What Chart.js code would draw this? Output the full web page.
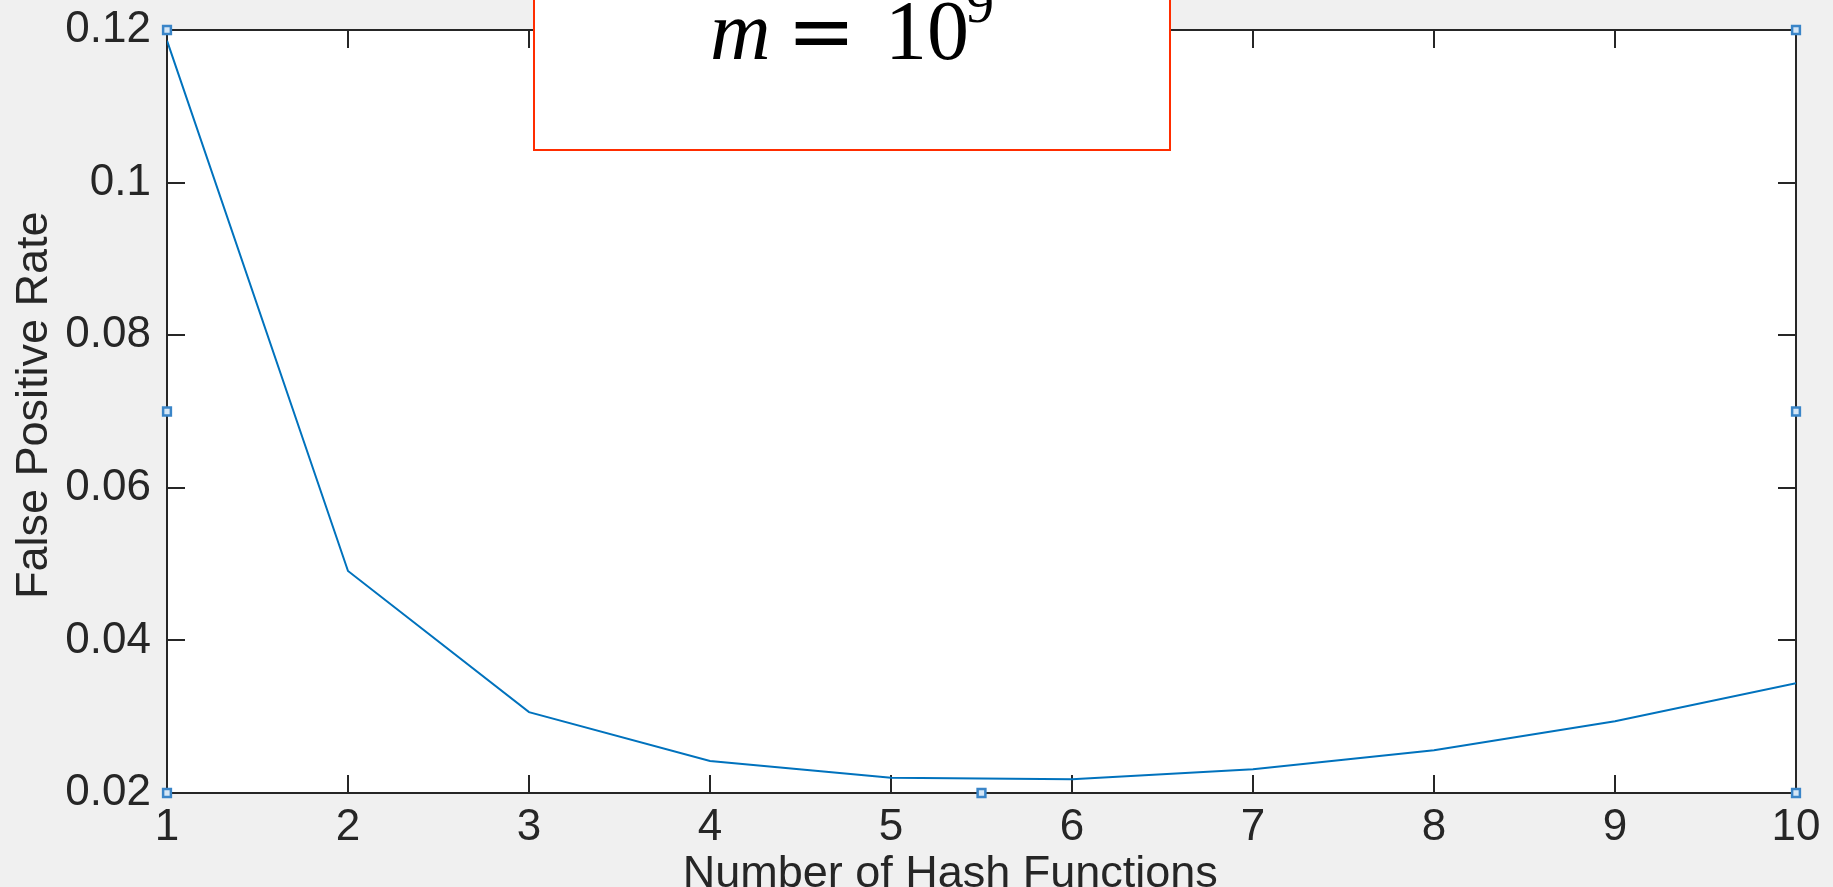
<!DOCTYPE html>
<html lang="en">
<head>
  <meta charset="UTF-8">
  <title>False Positive Rate vs Number of Hash Functions</title>
  <script src="https://cdn.jsdelivr.net/npm/chart.js"></script>
  <style>
    html, body {
      margin: 0;
      padding: 0;
      background: #f0f0f0;
      overflow: hidden;
    }
    canvas {
      display: block;
    }
  </style>
</head>
<body>
  <canvas id="myChart" width="1833" height="887"></canvas>

  <script>
    // data
    const hashFunctions = [1, 2, 3, 4, 5, 6, 7, 8, 9, 10];
    const falsePositiveRate = [0.1186, 0.0491, 0.0306, 0.0242, 0.0220, 0.0218, 0.0231, 0.0256, 0.0294, 0.0344];
    const xTicks = [1, 2, 3, 4, 5, 6, 7, 8, 9, 10];
    const yTicks = [0.02, 0.04, 0.06, 0.08, 0.1, 0.12];
    // figure selection handles
    const handleX = [1, 1, 1, 5.5, 10, 10, 10];
    const handleY = [0.12, 0.07, 0.02, 0.02, 0.02, 0.07, 0.12];

    const tickFont = { family: "'Liberation Sans', Arial, sans-serif", size: 44 };
    const titleFont = { family: "'Liberation Sans', Arial, sans-serif", size: 45, lineHeight: 0.55 };

    // white plot area + matlab style box with inward ticks
    const axesBox = {
      id: 'axesBox',
      beforeDatasetsDraw(chart) {
        const { ctx, chartArea: a, scales } = chart;
        ctx.save();
        ctx.strokeStyle = '#262626';
        ctx.lineWidth = 2;
        ctx.beginPath();
        const len = 18;
        xTicks.forEach(v => {
          const px = Math.round(scales.x.getPixelForValue(v));
          ctx.moveTo(px, a.bottom); ctx.lineTo(px, a.bottom - len);
          ctx.moveTo(px, a.top); ctx.lineTo(px, a.top + len);
        });
        yTicks.forEach(v => {
          const py = Math.round(scales.y.getPixelForValue(v));
          ctx.moveTo(a.left, py); ctx.lineTo(a.left + len, py);
          ctx.moveTo(a.right, py); ctx.lineTo(a.right - len, py);
        });
        ctx.stroke();
        ctx.strokeRect(a.left, a.top, a.right - a.left, a.bottom - a.top);
        ctx.restore();
      },
      beforeDraw(chart) {
        const { ctx, chartArea: a } = chart;
        ctx.save();
        ctx.fillStyle = '#f0f0f0';
        ctx.fillRect(0, 0, chart.width, chart.height);
        ctx.fillStyle = '#ffffff';
        ctx.fillRect(a.left, a.top, a.right - a.left, a.bottom - a.top);
        ctx.restore();
      }
    };

    // the red boxed annotation at the top
    const annotationBox = {
      id: 'annotationBox',
      afterDraw(chart) {
        const ctx = chart.ctx;
        ctx.save();
        ctx.fillStyle = '#ffffff';
        ctx.fillRect(534, -5, 636, 155);
        ctx.strokeStyle = '#ff2d00';
        ctx.lineWidth = 2;
        ctx.strokeRect(534, -5, 636, 155);
        ctx.fillStyle = '#000000';
        ctx.textBaseline = 'alphabetic';
        ctx.font = "italic 84px 'Liberation Serif', 'DejaVu Serif', serif";
        ctx.fillText('m', 710, 59);
        ctx.font = "82px 'DejaVu Serif', serif";
        ctx.fillText('=', 787, 59);
        ctx.font = "84px 'Liberation Serif', 'DejaVu Serif', serif";
        ctx.fillText('10', 885, 59);
        ctx.font = "56px 'Liberation Serif', 'DejaVu Serif', serif";
        ctx.fillText('9', 966, 22);
        ctx.restore();
      }
    };

    const ctx = document.getElementById('myChart').getContext('2d');
    const myChart = new Chart(ctx, {
      type: 'scatter',
      data: {
        datasets: [
          {
            label: 'handles',
            data: handleX.map((x, i) => ({ x: x, y: handleY[i] })),
            showLine: false,
            pointStyle: 'rect',
            pointRadius: 5.5,
            borderWidth: 2.5,
            borderColor: '#3a85c8',
            backgroundColor: '#d4e6f6',
            clip: false,
            order: 0
          },
          {
            label: 'False Positive Rate',
            data: hashFunctions.map((k, i) => ({ x: k, y: falsePositiveRate[i] })),
            showLine: true,
            borderColor: '#0072bd',
            borderWidth: 2,
            pointRadius: 0,
            tension: 0,
            order: 1
          }
        ]
      },
      options: {
        responsive: false,
        animation: false,
        devicePixelRatio: 1,
        layout: {
          padding: { top: 30, right: 37, left: 0, bottom: 0 }
        },
        plugins: {
          legend: { display: false },
          tooltip: { enabled: false }
        },
        scales: {
          x: {
            type: 'linear',
            min: 1,
            max: 10,
            afterBuildTicks: scale => { scale.ticks = xTicks.map(v => ({ value: v })); },
            afterFit: scale => {
              scale.height = 94;
              scale.paddingLeft = 0;
              scale.paddingRight = 0;
            },
            grid: { display: false, drawTicks: false },
            border: { display: false },
            ticks: {
              font: tickFont,
              color: '#262626',
              padding: 8,
              maxRotation: 0,
              callback: v => String(v)
            },
            title: {
              display: true,
              // trailing spaces nudge the centred title left like the original
              text: 'Number of Hash Functions\u00a0\u00a0\u00a0\u00a0\u00a0',
              font: titleFont,
              color: '#262626',
              padding: 0
            }
          },
          y: {
            type: 'linear',
            min: 0.02,
            max: 0.12,
            afterBuildTicks: scale => { scale.ticks = yTicks.map(v => ({ value: v })); },
            afterFit: scale => {
              scale.width = 167;
              scale.paddingTop = 0;
              scale.paddingBottom = 0;
            },
            grid: { display: false, drawTicks: false },
            border: { display: false },
            ticks: {
              font: tickFont,
              color: '#262626',
              padding: 16,
              callback: v => String(Number(v.toFixed(2)))
            },
            title: {
              display: true,
              text: '\u00a0False Positive Rate',
              font: titleFont,
              color: '#262626',
              padding: { top: 22, bottom: 0 }
            }
          }
        }
      },
      plugins: [axesBox, annotationBox]
    });
  </script>
</body>
</html>
